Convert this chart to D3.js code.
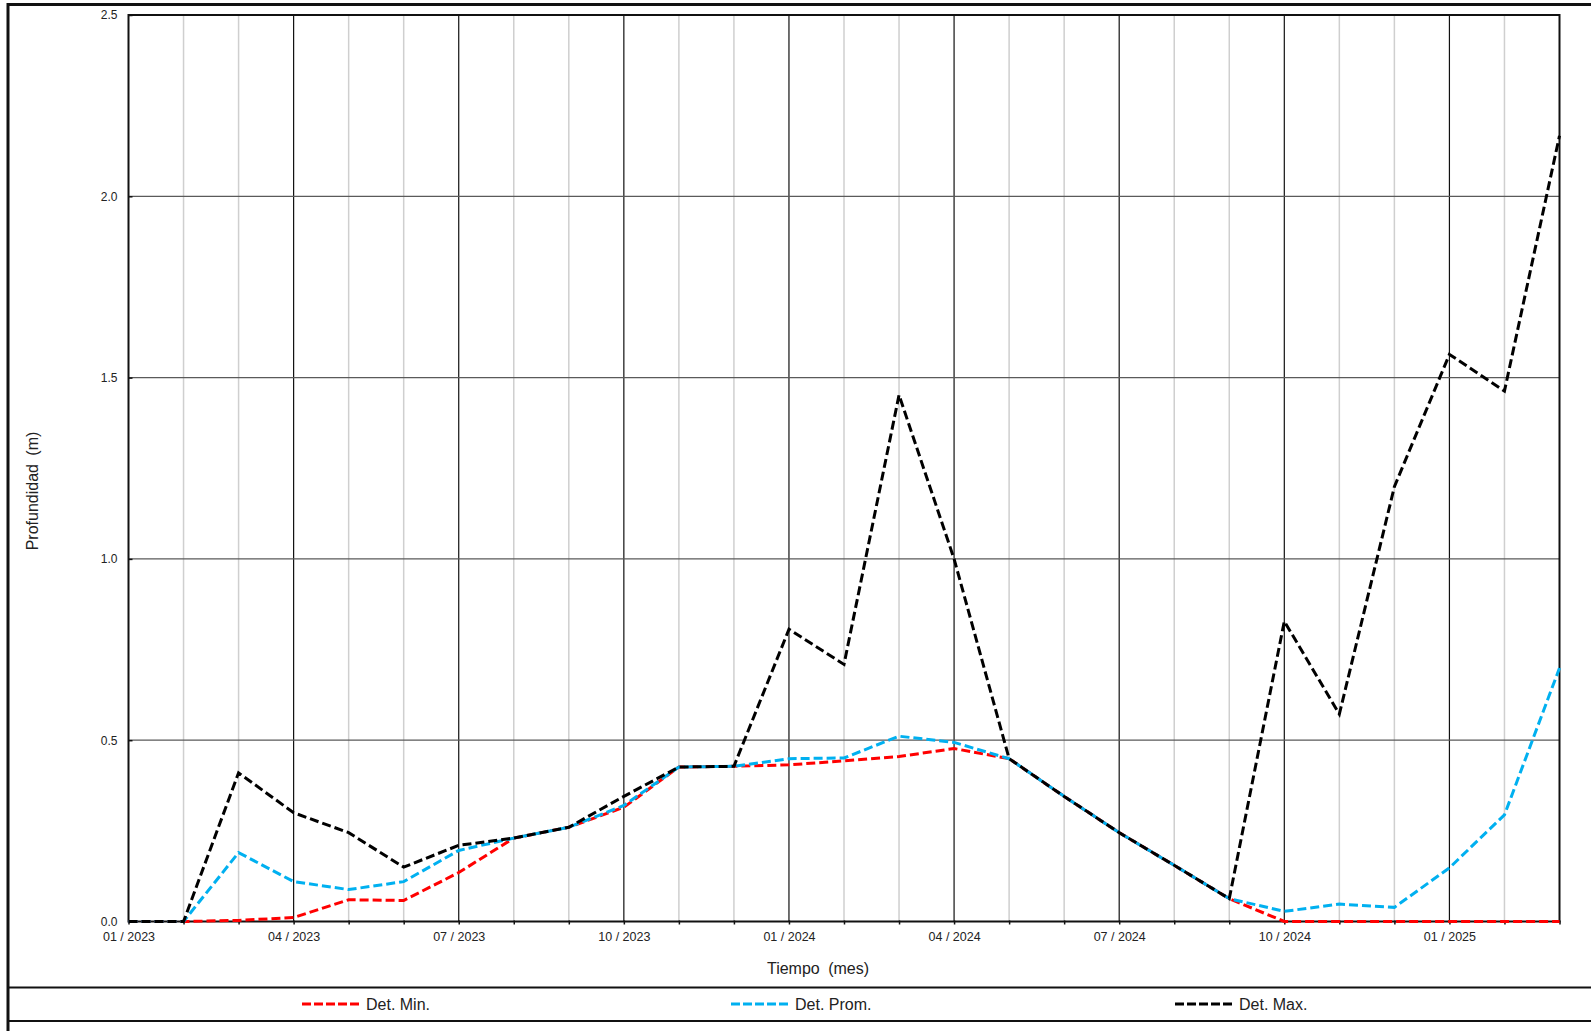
<!DOCTYPE html>
<html>
<head>
<meta charset="utf-8">
<script src="https://cdn.jsdelivr.net/npm/d3@7"></script>
<style>
  body { margin: 0; background: #fff; }
  svg text { font-family: "Liberation Sans", Arial, sans-serif; fill: #222; }
</style>
</head>
<body>
<svg id="drawing_region"></svg>
<script>
// month labels (01/2023 .. 03/2025), one point per month
const months = ["01 / 2023","02 / 2023","03 / 2023","04 / 2023","05 / 2023","06 / 2023",
                "07 / 2023","08 / 2023","09 / 2023","10 / 2023","11 / 2023","12 / 2023",
                "01 / 2024","02 / 2024","03 / 2024","04 / 2024","05 / 2024","06 / 2024",
                "07 / 2024","08 / 2024","09 / 2024","10 / 2024","11 / 2024","12 / 2024",
                "01 / 2025","02 / 2025","03 / 2025"];

const detMin  = [0, 0, 0.003, 0.011, 0.06, 0.058, 0.135, 0.23, 0.26, 0.315, 0.426, 0.428,
                 0.432, 0.443, 0.455, 0.477, 0.449, 0.345, 0.245, 0.155, 0.063, 0,
                 0, 0, 0, 0, 0];
const detProm = [0, 0, 0.19, 0.11, 0.088, 0.11, 0.196, 0.23, 0.26, 0.32, 0.426, 0.428,
                 0.449, 0.451, 0.511, 0.494, 0.449, 0.345, 0.245, 0.155, 0.063, 0.028,
                 0.048, 0.039, 0.148, 0.294, 0.699];
const detMax  = [0, 0, 0.41, 0.30, 0.245, 0.15, 0.21, 0.23, 0.26, 0.345, 0.426, 0.428,
                 0.806, 0.709, 1.452, 1.0, 0.449, 0.345, 0.245, 0.155, 0.063, 0.828,
                 0.572, 1.199, 1.564, 1.463, 2.167];

const yTicks = [0, 0.5, 1.0, 1.5, 2.0, 2.5];

const series = [
    { name: "Det. Min.",  values: detMin,  color: "#ff0000" },
    { name: "Det. Prom.", values: detProm, color: "#00b0f0" },
    { name: "Det. Max.",  values: detMax,  color: "#000000" }
];

const W = 1591, H = 1031;
const margin = { top: 15, left: 128.5, right: 1559.5, bottom: 921.5 };

const svg = d3.select('#drawing_region')
    .attr('width', W)
    .attr('height', H);

const xscale = d3.scaleLinear()
    .domain([0, months.length - 1])
    .range([margin.left, margin.right]);

const yscale = d3.scaleLinear()
    .domain([0, 2.5])
    .range([margin.bottom, margin.top]);

// outer frame
svg.append('path')
    .attr('d', `M8,1031 L8,4.5 L1591,4.5`)
    .attr('fill', 'none')
    .attr('stroke', '#111')
    .attr('stroke-width', 3);

// legend box lines
svg.selectAll('.legline')
    .data([987.5, 1021])
    .enter()
    .append('line')
    .attr('x1', 8).attr('x2', W)
    .attr('y1', d => d).attr('y2', d => d)
    .attr('stroke', '#111')
    .attr('stroke-width', 2);

const grid = svg.append('g');

// vertical grid lines, dark every quarter
grid.selectAll('.vgrid')
    .data(d3.range(1, months.length - 1))
    .enter()
    .append('line')
    .attr('x1', d => xscale(d)).attr('x2', d => xscale(d))
    .attr('y1', margin.top).attr('y2', margin.bottom)
    .attr('stroke', d => d % 3 === 0 ? '#111' : '#cfcfcf')
    .attr('stroke-width', d => d % 3 === 0 ? 1.2 : 1.5);

// horizontal grid lines
grid.selectAll('.hgrid')
    .data(yTicks.slice(1, -1))
    .enter()
    .append('line')
    .attr('x1', margin.left).attr('x2', margin.right)
    .attr('y1', d => yscale(d)).attr('y2', d => yscale(d))
    .attr('stroke', '#5a5a5a')
    .attr('stroke-width', 1.3);

// axes
const xaxis = d3.axisBottom(xscale)
    .tickValues(d3.range(months.length))
    .tickSize(4)
    .tickPadding(8)
    .tickFormat(i => i % 3 === 0 ? months[i] : '');

const xaxis_group = svg.append('g')
    .attr('transform', `translate(0, ${margin.bottom - 1})`)
    .call(xaxis);
xaxis_group.select('.domain').remove();
xaxis_group.selectAll('line').attr('stroke', '#111').attr('stroke-width', 1.5);
xaxis_group.selectAll('text')
    .attr('font-size', 12.5)
    .attr('fill', '#222')
    .attr('font-family', '"Liberation Sans", Arial, sans-serif');

const yaxis = d3.axisLeft(yscale)
    .tickValues(yTicks)
    .tickSize(-4)
    .tickPadding(11)
    .tickFormat(d3.format('.1f'));

const yaxis_group = svg.append('g')
    .attr('transform', `translate(${margin.left}, 0)`)
    .call(yaxis);
yaxis_group.select('.domain').remove();
yaxis_group.selectAll('line').attr('stroke', '#111').attr('stroke-width', 1.5);
yaxis_group.selectAll('text')
    .attr('font-size', 12)
    .attr('fill', '#222')
    .attr('font-family', '"Liberation Sans", Arial, sans-serif');

// plot frame
svg.append('rect')
    .attr('x', margin.left).attr('y', margin.top)
    .attr('width', margin.right - margin.left)
    .attr('height', margin.bottom - margin.top)
    .attr('fill', 'none')
    .attr('stroke', '#111')
    .attr('stroke-width', 2);

// series lines
const line = d3.line()
    .x((d, i) => xscale(i))
    .y(d => yscale(d));

svg.selectAll('.series')
    .data(series)
    .enter()
    .append('path')
    .attr('d', d => line(d.values))
    .attr('fill', 'none')
    .attr('stroke', d => d.color)
    .attr('stroke-width', 3)
    .attr('stroke-dasharray', '9,4');

// titles
svg.append('text')
    .attr('x', 818)
    .attr('y', 974)
    .attr('text-anchor', 'middle')
    .attr('font-size', 16)
    .attr('word-spacing', 4)
    .text('Tiempo (mes)');

svg.append('text')
    .attr('transform', 'translate(38, 491) rotate(-90)')
    .attr('text-anchor', 'middle')
    .attr('font-size', 16)
    .attr('word-spacing', 4)
    .text('Profundidad (m)');

// legend
const legendX = [302, 731, 1175];
const legend = svg.selectAll('.legend')
    .data(series)
    .enter()
    .append('g')
    .attr('transform', (d, i) => `translate(${legendX[i]}, 1004)`);

legend.append('line')
    .attr('x1', 0).attr('x2', 60)
    .attr('stroke', d => d.color)
    .attr('stroke-width', 3)
    .attr('stroke-dasharray', '9,3');

legend.append('text')
    .attr('x', 64)
    .attr('y', 6)
    .attr('font-size', 16)
    .text(d => d.name);
</script>
</body>
</html>
